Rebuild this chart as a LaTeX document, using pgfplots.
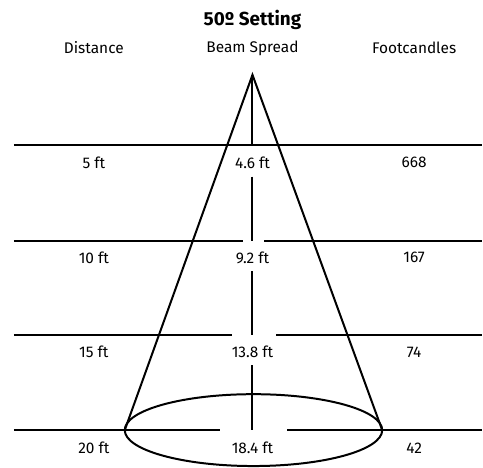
\documentclass[border=0pt]{standalone}
\usepackage{pgfplots}
\pgfplotsset{compat=1.18}
\usepackage{fontspec}
\setmainfont{Fira Sans}
\tikzset{ln/.style={black, solid, line width=2bp, mark=none}}
\begin{document}
\begin{tikzpicture}
\begin{axis}[
  width=483bp, height=468bp, scale only axis,
  xmin=0, xmax=483, ymin=0, ymax=468, y dir=reverse,
  hide axis, clip=false,
]
\addplot[draw=none, mark=none] coordinates {(0,0) (483,468)};
% horizontal distance lines
\addplot[ln] coordinates {(14,145) (483,145)};
\addplot[ln] coordinates {(14,241) (243,241)};
\addplot[ln] coordinates {(265,241) (483,241)};
\addplot[ln] coordinates {(14,336) (232,336)};
\addplot[ln] coordinates {(277,336) (483,336)};
\addplot[ln] coordinates {(14,431) (220,431)};
\addplot[ln] coordinates {(288,431) (483,431)};
% centre line
\addplot[ln] coordinates {(253,75) (253,145)};
\addplot[ln] coordinates {(253,177) (253,241)};
\addplot[ln] coordinates {(253,272) (253,336)};
\addplot[ln] coordinates {(253,366) (253,431)};
% cone
\addplot[ln, line join=miter] coordinates {(125,431) (253,75) (383,431)};
\draw[ln] (axis cs:254,431) ellipse [x radius=129, y radius=36];
% texts
\node[font=\fontsize{19}{22}\selectfont\bfseries] at (axis cs:253,20) {50º Setting};
\begin{scope}[every node/.style={font=\fontsize{15.5}{18}\selectfont}]
\node at (axis cs:94,48) {Distance};
\node at (axis cs:253,48) {Beam Spread};
\node at (axis cs:415,48) {Footcandles};
\node at (axis cs:94,163) {5 ft};
\node at (axis cs:94,258) {10 ft};
\node at (axis cs:94,353) {15 ft};
\node at (axis cs:94,449) {20 ft};
\node at (axis cs:253,163) {4.6 ft};
\node at (axis cs:253,258) {9.2 ft};
\node at (axis cs:253,353) {13.8 ft};
\node at (axis cs:253,449) {18.4 ft};
\node at (axis cs:415,163) {668};
\node at (axis cs:415,258) {167};
\node at (axis cs:415,353) {74};
\node at (axis cs:415,449) {42};
\end{scope}
\end{axis}
\end{tikzpicture}
\end{document}
